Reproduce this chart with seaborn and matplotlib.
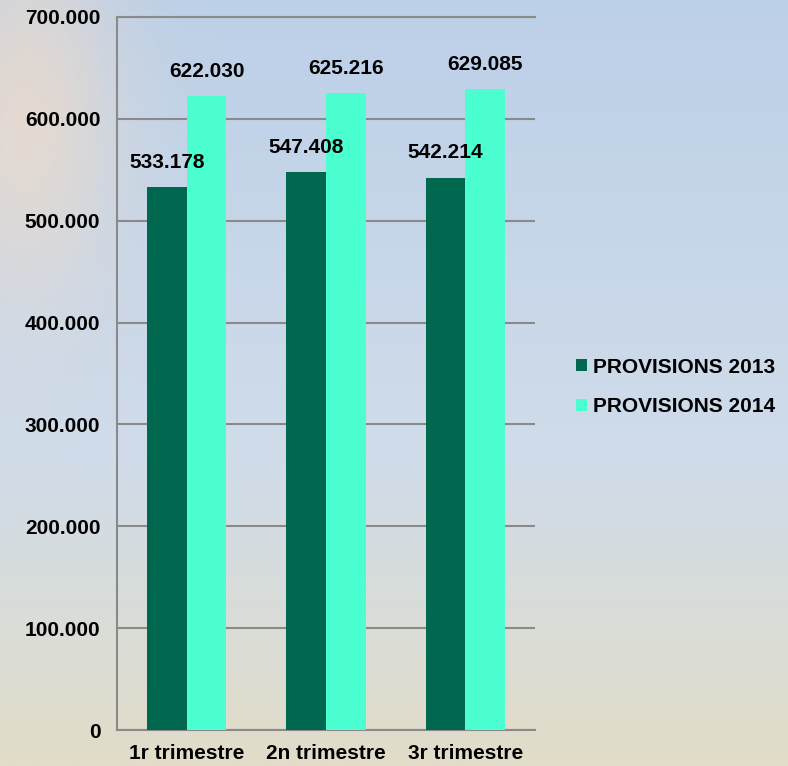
import numpy as np
import pandas as pd
import matplotlib
matplotlib.use("Agg")
import matplotlib.pyplot as plt
import seaborn as sns
from matplotlib.ticker import FuncFormatter

categories = ["1r trimestre", "2n trimestre", "3r trimestre"]
series_names = ["PROVISIONS 2013", "PROVISIONS 2014"]
values_2013 = [533178, 547408, 542214]
values_2014 = [622030, 625216, 629085]
y_ticks = [0, 100000, 200000, 300000, 400000, 500000, 600000, 700000]

df = pd.DataFrame({
    "cat": categories * 2,
    "serie": [series_names[0]] * 3 + [series_names[1]] * 3,
    "val": values_2013 + values_2014,
})

sns.set_theme(style="white")
plt.rcParams["font.family"] = ["Liberation Sans", "DejaVu Sans"]
plt.rcParams["font.weight"] = "bold"
plt.rcParams["text.color"] = "black"
plt.rcParams["xtick.color"] = "black"
plt.rcParams["ytick.color"] = "black"

fig = plt.figure(figsize=(7.88, 7.66), dpi=100)

# background sky-like gradient
bg = fig.add_axes([0, 0, 1, 1], zorder=-5)
h, w = 200, 200
yy = np.linspace(0, 1, h)[:, None]
xx = np.linspace(0, 1, w)[None, :]
top = np.array([188, 208, 232]) / 255
mid = np.array([208, 220, 234]) / 255
bot = np.array([226, 221, 200]) / 255
t = yy[..., None]
img = np.where(t < 0.6, top + (mid - top) * (t / 0.6), mid + (bot - mid) * ((t - 0.6) / 0.4))
img = np.broadcast_to(img, (h, w, 3)).copy()
# warm cloud at left top
cloud = np.exp(-(((xx - 0.03) / 0.12) ** 2 + ((yy - 0.15) / 0.25) ** 2))[..., None]
img = img * (1 - 0.7 * cloud) + np.array([242, 220, 200]) / 255 * 0.7 * cloud
bg.imshow(img, aspect="auto", extent=[0, 1, 0, 1])
bg.axis("off")

ax = fig.add_axes([117 / 788, 1 - 730 / 766, (535 - 117) / 788, (730 - 17) / 766])
ax.set_facecolor("none")

sns.barplot(data=df, x="cat", y="val", hue="serie", order=categories,
            hue_order=series_names, palette=["#00684F", "#4BFFD0"],
            width=0.57, gap=0, saturation=1, ax=ax, errorbar=None, zorder=3,
            linewidth=0, edgecolor="none")

fmt = lambda v: f"{int(round(v)):,}".replace(",", ".")
for cont in ax.containers:
    ax.bar_label(cont, labels=[fmt(b.get_height()) for b in cont], padding=11,
                 fontsize=15, fontweight="bold", color="black", zorder=5)

ax.set_ylim(0, 700000)
ax.set_yticks(y_ticks)
ax.yaxis.set_major_formatter(FuncFormatter(lambda v, p: fmt(v)))
ax.set_xlim(-0.5, 2.5)
ax.grid(axis="y", color="#8a8a8a", linewidth=1.5, zorder=0)
ax.set_axisbelow(True)
for s in ["left", "bottom", "top"]:
    ax.spines[s].set_visible(True)
    ax.spines[s].set_color("#8a8a8a")
    ax.spines[s].set_linewidth(1.5)
ax.spines["right"].set_visible(False)
ax.tick_params(axis="both", length=0, labelsize=15, colors="black")
ax.tick_params(axis="y", pad=12)
ax.tick_params(axis="x", pad=10)
for lbl in ax.get_xticklabels() + ax.get_yticklabels():
    lbl.set_fontweight("bold")
    lbl.set_color("black")
ax.set_xlabel("")
ax.set_ylabel("")

handles, labels = ax.get_legend_handles_labels()
ax.legend(handles, labels, loc="center left", bbox_to_anchor=(557 / 788, 1 - 387 / 766),
          bbox_transform=fig.transFigure, frameon=False,
          handlelength=0.55, handleheight=0.55, handletextpad=0.3, labelspacing=1.0,
          prop={"weight": "bold", "size": 15})

fig.savefig("out.png", dpi=100)
